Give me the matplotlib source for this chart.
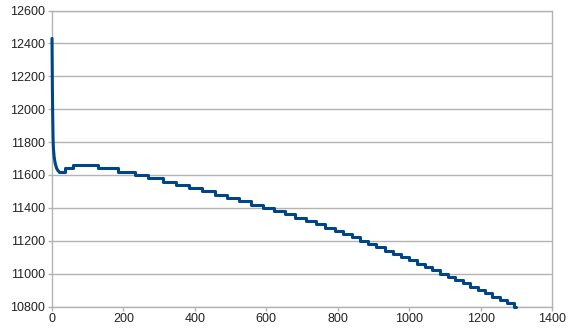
import matplotlib
matplotlib.use("Agg")
import matplotlib.pyplot as plt

# start of each level (x) and its value
step_x = [0, 1, 2, 3, 4, 6, 9, 13, 17, 20, 36, 58, 130, 186, 232, 270,
          310, 347, 384, 420, 455, 490, 524, 557, 590,
          621, 651, 681, 710, 738, 765, 791, 816, 840, 862,
          885, 908, 931, 954, 977, 999, 1021, 1043, 1065, 1087,
          1108, 1129, 1150, 1171, 1192, 1213, 1233, 1253, 1273, 1293, 1300]
step_y = [12430, 12150, 11950, 11820, 11760, 11710, 11670, 11640, 11625, 11620, 11640, 11660, 11640, 11620, 11600, 11580,
          11560, 11540, 11520, 11500, 11480, 11460, 11440, 11420, 11400,
          11380, 11360, 11340, 11320, 11300, 11280, 11260, 11240, 11220, 11200,
          11180, 11160, 11140, 11120, 11100, 11080, 11060, 11040, 11020, 11000,
          10980, 10960, 10940, 10920, 10900, 10880, 10860, 10840, 10820, 10800, 10800]

x_ticks = [0, 200, 400, 600, 800, 1000, 1200, 1400]
y_ticks = [10800, 11000, 11200, 11400, 11600, 11800, 12000, 12200, 12400, 12600]

plt.rcParams['font.family'] = ['Liberation Sans', 'DejaVu Sans']

fig = plt.figure(figsize=(5.77, 3.35), dpi=100)
ax = fig.add_axes([52 / 577, 1 - 306.5 / 335, 500 / 577, 296 / 335])

n0 = 10  # initial drop is smooth, rest is quantised steps
style = dict(color='#004586', linewidth=2.2, solid_joinstyle='round',
             solid_capstyle='round', clip_on=False, zorder=3)
ax.plot(step_x[:n0], step_y[:n0], **style)
ax.plot(step_x[n0 - 1:], step_y[n0 - 1:], drawstyle='steps-post', **style)

ax.set_xlim(0, 1400)
ax.set_ylim(10800, 12600)
ax.set_xticks(x_ticks)
ax.set_yticks(y_ticks)
ax.yaxis.grid(True, color='#b3b3b3', linewidth=1)
ax.set_axisbelow(True)
for s in ax.spines.values():
    s.set_color('#b3b3b3')
    s.set_linewidth(1)
ax.tick_params(axis='both', colors='#b3b3b3', labelcolor='#222222',
               labelsize=9, length=3, width=1, pad=2)

fig.savefig('out.png', dpi=100)
